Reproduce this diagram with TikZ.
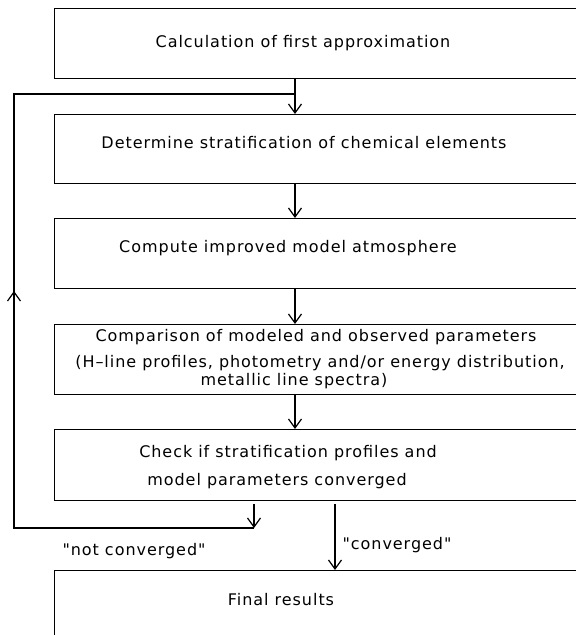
\documentclass[tikz,border=0pt]{standalone}
\usepackage{fontspec}
\setmainfont[LetterSpace=6]{DejaVu Sans}
\newfontfamily\qfont[LetterSpace=6]{DejaVu Sans}
\usetikzlibrary{arrows.meta}
\begin{document}
\begin{tikzpicture}[x=1pt,y=-1pt,
  box/.style={draw,line width=1.2pt,anchor=north west,minimum width=560pt,inner sep=0pt},
  lbl/.style={font=\fontsize{16}{19}\selectfont,inner sep=0pt},
  flow/.style={line width=2pt,-{Straight Barb[length=9pt,width=13pt,line width=1.2pt]}},
  loopline/.style={line width=2pt}]
\useasboundingbox (0,0) rectangle (576,635);
\node[box,minimum height=70pt] (b1) at (54,8) {};
\node[box,minimum height=69pt] (b2) at (54,114) {};
\node[box,minimum height=70pt] (b3) at (54,218) {};
\node[box,minimum height=70pt] (b4) at (54,324) {};
\node[box,minimum height=71pt] (b5) at (54,429) {};
\node[box,minimum height=100pt] (b6) at (54,570) {};
\node[lbl] (t1) at (303,43) {Calculation of first approximation};
\node[lbl] (t2) at (304,143) {Determine stratification of chemical elements};
\node[lbl] (t3) at (288,248) {Compute improved model atmosphere};
\node[lbl] (t4a) at (316,337) {Comparison of modeled and observed parameters};
\node[lbl] (t4b) at (320,363) {(H--line profiles, photometry and/or energy distribution,};
\node[lbl] (t4c) at (294,381) {metallic line spectra)};
\node[lbl] (t5a) at (288,453) {Check if stratification profiles and};
\node[lbl] (t5b) at (277,481) {model parameters converged};
\node[lbl] (t6) at (281,600) {Final results};
\node[lbl] (lc) at (397,545) {\qfont "converged"};
\node[lbl] (lnc) at (134,551) {\qfont "not converged"};
\coordinate (cx) at (295,0);
\coordinate (nx) at (254,0);
\coordinate (vx) at (335,0);
\coordinate (nb) at (254,528);
\coordinate (ll) at (14,528);
\coordinate (up) at (14,291);
\coordinate (lt) at (14,94);
\coordinate (jt) at (295,94);
\draw[flow] (b1.south -| cx) -- (b2.north -| cx);
\draw[flow] (b2.south -| cx) -- (b3.north -| cx);
\draw[flow] (b3.south -| cx) -- (b4.north -| cx);
\draw[flow] (b4.south -| cx) -- (b5.north -| cx);
\draw[flow,shorten <=3pt] (b5.south -| nx) -- (nb);
\draw[loopline] (nb) -- (ll) -- (lt) -- (jt);
\draw[flow] (ll) -- (up);
\draw[flow,shorten <=3pt] (b5.south -| vx) -- (b6.north -| vx);
\end{tikzpicture}
\end{document}
